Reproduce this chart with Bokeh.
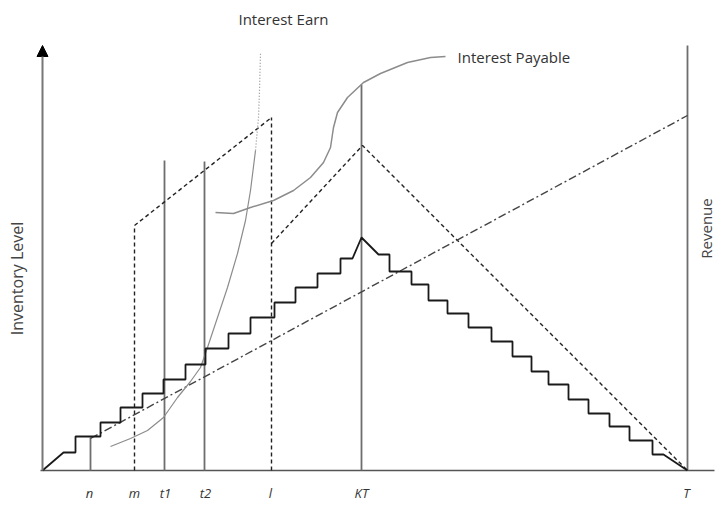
from bokeh.plotting import figure
from bokeh.models import Range1d, Arrow, NormalHead
from bokeh.core.properties import value
from bokeh.embed import file_html
from bokeh.resources import INLINE
import math

# ---- schematic values (time on x, level on y) ----
tick_names = ["n", "m", "t1", "t2", "l", "KT", "T"]
tick_pos = [47, 92, 123, 163, 228, 319, 644]

# solid vertical markers: position, height
solid_vx = [48, 122, 162, 319, 645]
solid_vtop = [33, 310, 309, 386, 425]

# dashed vertical markers
dash_vx = [92, 229]
dash_vtop = [245, 353]

# rising staircase
rise_start_x = [0, 21]
rise_start_y = [0, 18]
rise_step_x = [33, 58, 78, 100, 121, 143, 163, 186, 208, 232, 253, 275, 298]
rise_level = [34, 48, 63, 77, 91, 106, 122, 137, 153, 168, 183, 197, 212]
rise_end_x = [310, 319]
rise_end_y = [212, 233]

# falling staircase
fall_start_x = [336]
fall_start_y = [216]
fall_step_x = [347, 369, 386, 405, 426, 449, 470, 489, 506, 526, 546, 567, 587, 610]
fall_level = [199, 186, 170, 157, 143, 129, 114, 99, 86, 71, 57, 44, 30, 16]
fall_end_x = [621, 645]
fall_end_y = [16, 0]

# dashed lines (inventory with trade credit)
dashed_upper_x = [92, 229]
dashed_upper_y = [245, 353]
dashed_mid_x = [229, 320, 645]
dashed_mid_y = [227, 325, 0]

# dash-dot (revenue)
dashdot_x = [48, 645]
dashdot_y = [32, 355]

# interest earned curve
earn_x = [68, 88, 105, 121, 135, 148, 158, 165, 175, 185, 195, 203, 208, 213]
earn_y = [24, 32, 40, 53, 73, 89, 103, 123, 153, 183, 217, 250, 280, 320]
earn_top_x = [213, 216, 217, 218]
earn_top_y = [320, 353, 380, 417]

# interest payable curve
pay_x = [173, 191, 208, 231, 251, 268, 281, 288, 291, 295, 305, 321, 338, 365, 388, 403]
pay_y = [258, 257, 263, 270, 280, 293, 308, 323, 343, 358, 373, 388, 397, 408, 413, 414]

# ---- figure ----
p = figure(width=716, height=500, output_backend="svg", toolbar_location=None,
           x_range=Range1d(-42, 674), y_range=Range1d(-30, 470),
           x_axis_type=None, y_axis_type=None, min_border=0)
p.grid.visible = False
p.outline_line_color = None
p.background_fill_color = "white"

FONT = value("Open Sans")
GRAY = "#6e6e6e"

# axes
p.line([-2, 672], [0, 0], line_color="#555555", line_width=1.6)
p.add_layout(Arrow(end=NormalHead(size=11, fill_color="black", line_color="black"),
                   x_start=0, y_start=0, x_end=0, y_end=425,
                   line_color="#777777", line_width=2))

# solid verticals
p.segment(x0=solid_vx, y0=[0] * len(solid_vx), x1=solid_vx, y1=solid_vtop,
          line_color=GRAY, line_width=1.8)
# dashed verticals
p.segment(x0=dash_vx, y0=[0] * len(dash_vx), x1=dash_vx, y1=dash_vtop,
          line_color="#222222", line_width=1.4, line_dash="4 3")

# dashed lines
p.line(dashed_upper_x, dashed_upper_y, line_color="#222222", line_width=1.4, line_dash="4 3")
p.line(dashed_mid_x, dashed_mid_y, line_color="#222222", line_width=1.4, line_dash="4 3")

# dash-dot line
p.line(dashdot_x, dashdot_y, line_color="#444444", line_width=1.4, line_dash="8 3 2 3")

# curves
p.line(earn_x, earn_y, line_color="#8c8c8c", line_width=1.2)
p.line(earn_top_x, earn_top_y, line_color="#8c8c8c", line_width=1.2, line_dash="1 2")
p.line(pay_x, pay_y, line_color="#8c8c8c", line_width=1.5)

# staircases
def stairs(sx, sy, step_x, levels, ex, ey):
    xs, ys = list(sx), list(sy)
    prev = sy[-1]
    for x, lv in zip(step_x, levels):
        xs += [x, x]
        ys += [prev, lv]
        prev = lv
    xs += list(ex)
    ys += list(ey)
    return xs, ys

rx, ry = stairs(rise_start_x, rise_start_y, rise_step_x, rise_level, rise_end_x, rise_end_y)
fx, fy = stairs(fall_start_x, fall_start_y, fall_step_x, fall_level, fall_end_x, fall_end_y)
p.line(rx + fx, ry + fy, line_color="#1a1a1a", line_width=1.8)

# tick labels
p.text(x=tick_pos, y=[-22] * len(tick_pos), text=tick_names, text_align="center",
       text_baseline="middle", text_font=FONT, text_font_size="13px",
       text_font_style="italic", text_color="#333333")

# annotations
p.text(x=[241], y=[452], text=["Interest Earn"], text_align="center", text_baseline="middle",
       text_font=FONT, text_font_size="15px", text_color="#333333")
p.text(x=[415], y=[414], text=["Interest Payable"], text_align="left", text_baseline="middle",
       text_font=FONT, text_font_size="15px", text_color="#333333")
p.text(x=[-26], y=[192], text=["Inventory Level"], angle=math.pi / 2, text_align="center",
       text_baseline="middle", text_font=FONT, text_font_size="16px", text_color="#444444")
p.text(x=[663], y=[242], text=["Revenue"], angle=math.pi / 2, text_align="center",
       text_baseline="middle", text_font=FONT, text_font_size="15px", text_color="#444444")

open("out.html", "w").write(file_html(p, INLINE))
